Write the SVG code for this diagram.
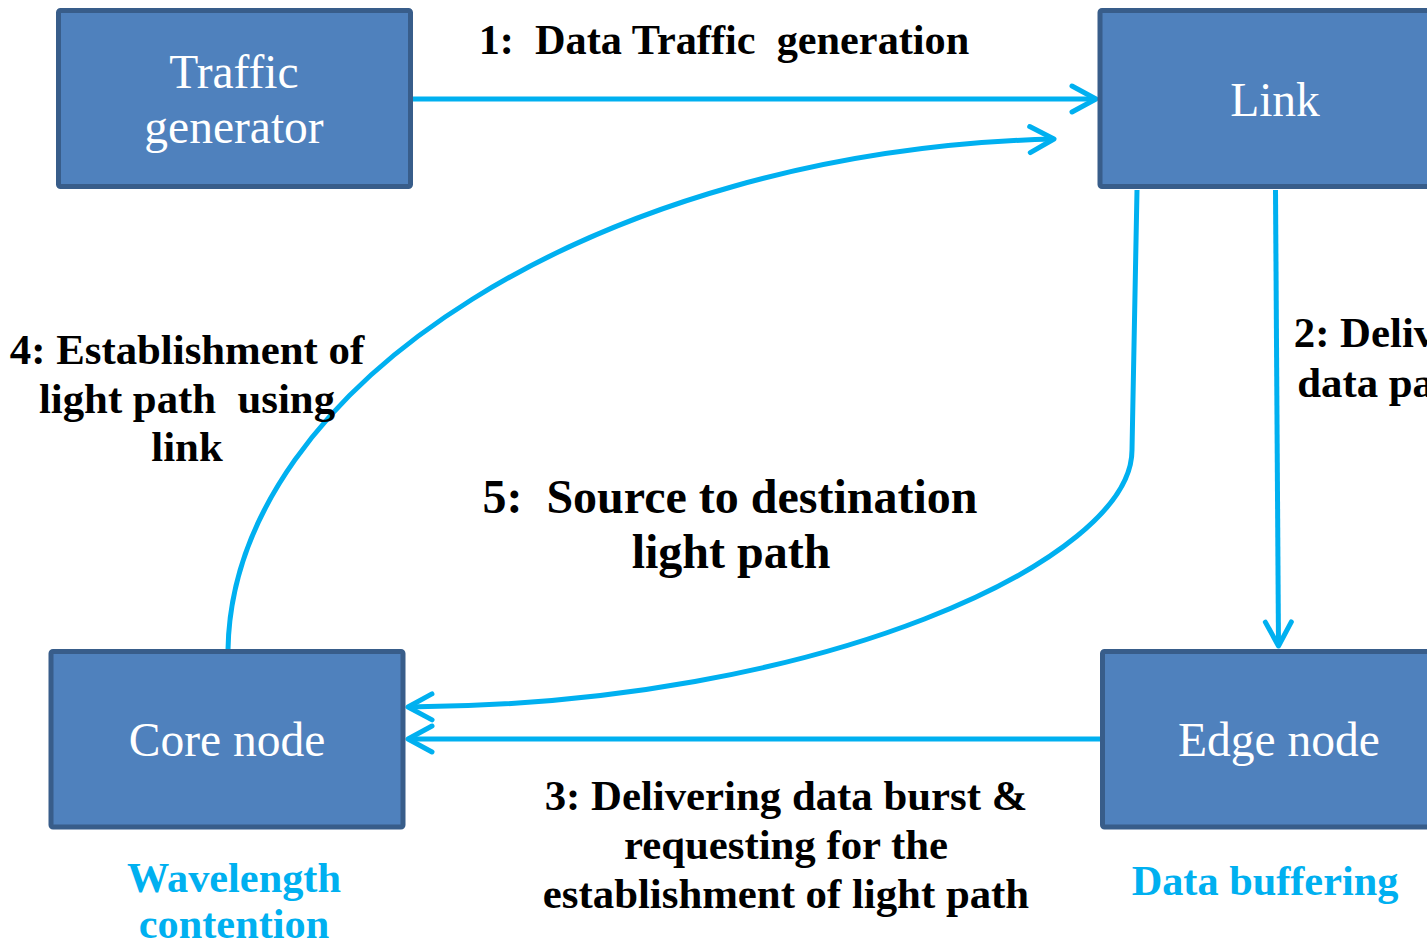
<svg xmlns="http://www.w3.org/2000/svg" width="1427" height="946" viewBox="0 0 1427 946">
  <style>
    .box { fill: #4F81BD; stroke: #385D8A; stroke-width: 5; }
    .node-label { font-family: "Liberation Serif", "Times New Roman", serif; font-size: 47.5px; fill: #FFFFFF; text-anchor: middle; }
    .step { font-family: "Liberation Serif", "Times New Roman", serif; font-weight: bold; font-size: 42.8px; fill: #000000; text-anchor: middle; }
    .step-sm { font-size: 42.3px; }
    .step-lg { font-size: 48px; }
    .note { font-family: "Liberation Serif", "Times New Roman", serif; font-weight: bold; font-size: 42.3px; fill: #00B0F0; text-anchor: middle; }
    .wire { fill: none; stroke: #00B0F0; stroke-width: 5; marker-end: url(#chevron); }
  </style>
  <defs>
    <marker id="chevron" markerUnits="userSpaceOnUse" markerWidth="40" markerHeight="40" refX="0" refY="0" orient="auto" overflow="visible">
      <path d="M-24,-13 L0,0 L-24,13" fill="none" stroke="#00B0F0" stroke-width="5" stroke-linecap="round" stroke-linejoin="round"/>
    </marker>
  </defs>

  <rect width="1427" height="946" fill="#FFFFFF"/>

  <!-- connectors -->
  <g id="connectors">
    <path id="c1" class="wire" d="M413,99 L1096,99"/>
    <path id="c2" class="wire" d="M1275.5,190 L1278.5,646"/>
    <path id="c3" class="wire" d="M1100,739 L408,739"/>
    <path id="c4" class="wire" d="M228,650 C232,385 600,150 1054,139"/>
    <path id="c5" class="wire" d="M1137,190 L1132,450 C1132,560 820,705 408,707"/>
  </g>

  <!-- nodes -->
  <g id="traffic-generator">
    <rect class="box" x="58.5" y="10.5" width="352" height="176" rx="2"/>
    <text class="node-label" x="234" y="88">Traffic</text>
    <text class="node-label" x="234" y="143">generator</text>
  </g>
  <g id="link">
    <rect class="box" x="1100" y="10.5" width="400" height="176" rx="2"/>
    <text class="node-label" x="1275" y="116">Link</text>
  </g>
  <g id="core-node">
    <rect class="box" x="51" y="651.5" width="352" height="175.5" rx="2"/>
    <text class="node-label" x="227" y="756">Core node</text>
  </g>
  <g id="edge-node">
    <rect class="box" x="1102.5" y="651.5" width="400" height="175.5" rx="2"/>
    <text class="node-label" x="1279" y="756">Edge node</text>
  </g>

  <!-- step labels -->
  <g id="labels">
    <text class="step step-sm" x="724" y="54" xml:space="preserve">1:  Data Traffic  generation</text>
    <text class="step" x="1412" y="347">2: Delivering</text>
    <text class="step" x="1412" y="397">data packets</text>
    <text class="step" x="786" y="810">3: Delivering data burst &amp;</text>
    <text class="step" x="786" y="859">requesting for the</text>
    <text class="step" x="786" y="908">establishment of light path</text>
    <text class="step" x="187" y="364">4: Establishment of</text>
    <text class="step" x="187" y="413" xml:space="preserve">light path  using</text>
    <text class="step" x="187" y="461">link</text>
    <text class="step step-lg" x="730" y="513" xml:space="preserve">5:  Source to destination</text>
    <text class="step step-lg" x="731" y="568">light path</text>
    <text class="note" x="234" y="892">Wavelength</text>
    <text class="note" x="234" y="938">contention</text>
    <text class="note" x="1265" y="895">Data buffering</text>
  </g>
</svg>
